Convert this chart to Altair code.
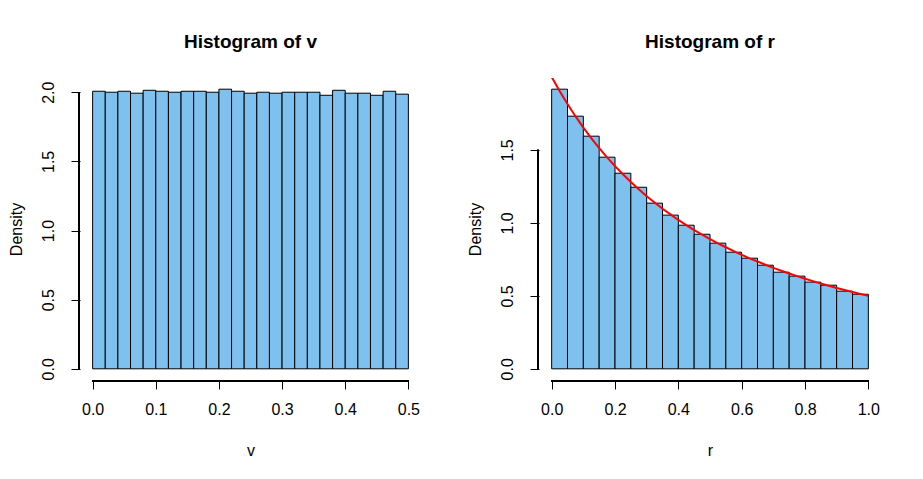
import altair as alt
import pandas as pd

# ---- data ----
v_breaks = [0.00, 0.02, 0.04, 0.06, 0.08, 0.10, 0.12, 0.14, 0.16, 0.18, 0.20,
            0.22, 0.24, 0.26, 0.28, 0.30, 0.32, 0.34, 0.36, 0.38, 0.40,
            0.42, 0.44, 0.46, 0.48, 0.50]
v_density = [2.007, 2.000, 2.007, 1.993, 2.014, 2.007, 2.000, 2.007, 2.007, 2.000,
             2.022, 2.007, 1.993, 2.000, 1.993, 2.000, 2.000, 2.000, 1.978, 2.014,
             1.993, 1.993, 1.978, 2.007, 1.986]

r_breaks = [0.00, 0.05, 0.10, 0.15, 0.20, 0.25, 0.30, 0.35, 0.40, 0.45, 0.50,
            0.55, 0.60, 0.65, 0.70, 0.75, 0.80, 0.85, 0.90, 0.95, 1.00]
r_density = [1.916, 1.731, 1.594, 1.450, 1.340, 1.244, 1.135, 1.053, 0.984, 0.922,
             0.861, 0.799, 0.758, 0.710, 0.662, 0.635, 0.594, 0.573, 0.532, 0.511]

curve_r = [0.000, 0.025, 0.050, 0.075, 0.100, 0.125, 0.150, 0.175, 0.200, 0.225,
           0.250, 0.275, 0.300, 0.325, 0.350, 0.375, 0.400, 0.425, 0.450, 0.475,
           0.500, 0.525, 0.550, 0.575, 0.600, 0.625, 0.650, 0.675, 0.700, 0.725,
           0.750, 0.775, 0.800, 0.825, 0.850, 0.875, 0.900, 0.925, 0.950, 0.975, 1.000]
curve_density = [2.000, 1.904, 1.814, 1.731, 1.653, 1.580, 1.512, 1.449, 1.389, 1.333,
                 1.280, 1.230, 1.183, 1.139, 1.097, 1.058, 1.020, 0.985, 0.951, 0.919,
                 0.889, 0.860, 0.833, 0.806, 0.781, 0.757, 0.735, 0.713, 0.692, 0.672,
                 0.653, 0.635, 0.617, 0.601, 0.584, 0.569, 0.554, 0.540, 0.526, 0.513, 0.500]

v_xticks = [0.0, 0.1, 0.2, 0.3, 0.4, 0.5]
v_yticks = [0.0, 0.5, 1.0, 1.5, 2.0]
r_xticks = [0.0, 0.2, 0.4, 0.6, 0.8, 1.0]
r_yticks = [0.0, 0.5, 1.0, 1.5]

FONT = "Liberation Sans"
FS = 16
W_LEFT, W_RIGHT, H = 341, 342, 302


def panel(breaks, dens, xdomain, ydomain, xticks, yticks, title, xlabel, width,
          curve=None):
    df = pd.DataFrame({"left": breaks[:-1], "right": breaks[1:],
                       "density": dens, "base": [0.0] * len(dens)})
    xs = alt.Scale(domain=xdomain, nice=False, zero=False)
    ys = alt.Scale(domain=ydomain, nice=False, zero=False)
    bars = alt.Chart(df).mark_rect(
        fill="#7EC0EE", stroke="black", strokeWidth=1
    ).encode(
        x=alt.X("left:Q", scale=xs,
                axis=alt.Axis(values=xticks, format=".1f", title=xlabel,
                              labelPadding=12, titlePadding=25, labelAngle=0)),
        x2="right:Q",
        y=alt.Y("density:Q", scale=ys,
                axis=alt.Axis(values=yticks, format=".1f", title="Density",
                              labelAngle=270, labelAlign="center",
                              labelBaseline="bottom", labelPadding=15,
                              titlePadding=16)),
        y2="base:Q",
    )
    xline = alt.Chart(df).mark_rule(color="black", strokeWidth=1).encode(
        x=alt.datum(xticks[0]), x2=alt.datum(xticks[-1]), y=alt.value(H + 1)
    )
    yline = alt.Chart(df).mark_rule(color="black", strokeWidth=1).encode(
        x=alt.value(-1), y=alt.datum(yticks[0]), y2=alt.datum(yticks[-1])
    )
    layers = [bars, xline, yline]
    if curve is not None:
        cdf = pd.DataFrame({"r": curve[0], "d": curve[1]})
        line = alt.Chart(cdf).mark_line(color="red", strokeWidth=2, clip=True).encode(
            x="r:Q", y="d:Q"
        )
        layers.append(line)
    return alt.layer(*layers).properties(
        width=width, height=H,
        title=alt.TitleParams(title, font=FONT, fontSize=19, fontWeight="bold",
                              anchor="middle", baseline="alphabetic", offset=11,
                              color="black"),
    )


left = panel(v_breaks, v_density, [-0.02, 0.52], [-0.0809, 2.1029],
             v_xticks, v_yticks, "Histogram of v", "v", W_LEFT)
right = panel(r_breaks, r_density, [-0.04, 1.04], [-0.0766, 1.9926],
              r_xticks, r_yticks, "Histogram of r", "r", W_RIGHT,
              curve=(curve_r, curve_density))

chart = alt.hconcat(left, right, spacing=118, bounds="flush").properties(
    padding={"left": 0, "top": 25, "right": 5, "bottom": 5}
).configure_view(stroke=None).configure_axis(
    domain=False, grid=False, tickSize=9, tickColor="black", tickWidth=1,
    labelFont=FONT, labelFontSize=FS, labelColor="black",
    titleFont=FONT, titleFontSize=FS, titleFontWeight="normal", titleColor="black",
    labelOverlap=False, labelFlush=False,
)

chart.save("out.html", embed_options={"renderer": "svg", "actions": False})
